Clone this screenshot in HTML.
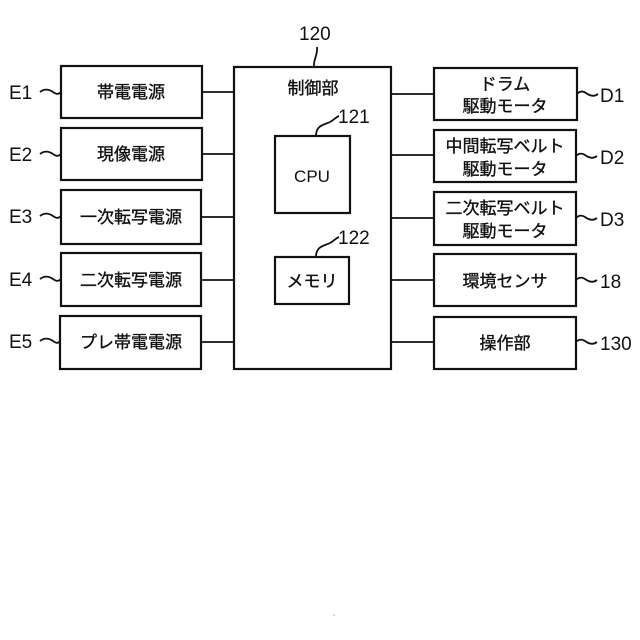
<!DOCTYPE html>
<html><head><meta charset="utf-8"><style>
html,body{margin:0;padding:0;background:#fff;}
svg{display:block;}
text{font-family:"Liberation Sans","Noto Sans CJK JP",sans-serif;fill:#111;}
.j{font-size:17px;text-anchor:middle;stroke:#111;stroke-width:0.35px;}
.n{font-size:19px;}
</style></head><body>
<svg width="640" height="640" viewBox="0 0 640 640" xmlns="http://www.w3.org/2000/svg">
<g fill="none" stroke="#111" stroke-width="2.2">
<rect x="61" y="66" width="141" height="52"/>
<rect x="61" y="128" width="141" height="52"/>
<rect x="61" y="190" width="140" height="54"/>
<rect x="61" y="253" width="140" height="53"/>
<rect x="60" y="316" width="141" height="53"/>
<rect x="234" y="67" width="157" height="302"/>
<rect x="275" y="136" width="75" height="77"/>
<rect x="275" y="257" width="74" height="47"/>
<rect x="434" y="68" width="143" height="52"/>
<rect x="434" y="130" width="142" height="52"/>
<rect x="434" y="192" width="142" height="53"/>
<rect x="434" y="254" width="142" height="52"/>
<rect x="434" y="317" width="142" height="52"/>
</g>
<g stroke="#111" stroke-width="1.8" fill="none">
<line x1="202" y1="92" x2="234" y2="92"/>
<line x1="202" y1="154" x2="234" y2="154"/>
<line x1="201" y1="217" x2="234" y2="217"/>
<line x1="201" y1="280" x2="234" y2="280"/>
<line x1="201" y1="342" x2="234" y2="342"/>
<line x1="391" y1="94" x2="434" y2="94"/>
<line x1="391" y1="155" x2="434" y2="155"/>
<line x1="391" y1="218" x2="434" y2="218"/>
<line x1="391" y1="280" x2="434" y2="280"/>
<line x1="391" y1="342" x2="434" y2="342"/>
<path d="M40,92 C45,88 50,90 53,92 C56,94 58,95 61,92"/>
<path d="M40,154 C45,150 50,152 53,154 C56,156 58,157 61,154"/>
<path d="M40,216 C45,212 50,214 53,216 C56,218 58,219 61,216"/>
<path d="M40,279 C45,275 50,277 53,279 C56,281 58,282 61,279"/>
<path d="M40,341 C45,337 50,339 53,341 C56,343 58,344 60,341"/>
<path d="M577,94 C580,91 583,91 586,93 C590,96 594,97 598,94"/>
<path d="M576,156 C579,153 582,153 585,155 C589,158 593,159 597,156"/>
<path d="M576,218 C579,215 582,215 585,217 C589,220 593,221 597,218"/>
<path d="M576,280 C579,277 582,277 585,279 C589,282 593,283 597,280"/>
<path d="M576,342 C579,339 582,339 585,341 C589,344 593,345 597,342"/>
<path d="M314,67 C313,60 318,55 317,47"/>
<path d="M316,136 C316,125 324,125 330,122 C334,120 336,117 339,116"/>
<path d="M316,257 C316,246 324,246 330,243 C334,241 336,238 339,237"/>
</g>
<text class="n" x="9" y="99">E1</text>
<text class="n" x="9" y="161">E2</text>
<text class="n" x="9" y="223">E3</text>
<text class="n" x="9" y="286">E4</text>
<text class="n" x="9" y="348">E5</text>
<text class="j" x="131" y="98">帯電電源</text>
<text class="j" x="131" y="160">現像電源</text>
<text class="j" x="131" y="223">一次転写電源</text>
<text class="j" x="131" y="286">二次転写電源</text>
<text class="j" x="131" y="348">プレ帯電電源</text>
<text class="n" x="299" y="40">120</text>
<text class="j" x="313" y="94">制御部</text>
<text class="n" x="338" y="123">121</text>
<text style="font-size:17px;text-anchor:middle" x="312" y="182">CPU</text>
<text class="n" x="338" y="244">122</text>
<text class="j" x="312" y="287">メモリ</text>
<text class="j" x="505" y="90">ドラム</text>
<text class="j" x="505" y="112">駆動モータ</text>
<text class="j" x="505" y="152">中間転写ベルト</text>
<text class="j" x="505" y="175">駆動モータ</text>
<text class="j" x="505" y="214">二次転写ベルト</text>
<text class="j" x="505" y="237">駆動モータ</text>
<text class="j" x="505" y="287">環境センサ</text>
<text class="j" x="505" y="349">操作部</text>
<text class="n" x="600" y="102">D1</text>
<text class="n" x="600" y="164">D2</text>
<text class="n" x="600" y="226">D3</text>
<text class="n" x="600" y="288">18</text>
<text class="n" x="600" y="350">130</text>
<circle cx="334" cy="615" r="0.8" fill="#aaa"/>
</svg>
</body></html>
